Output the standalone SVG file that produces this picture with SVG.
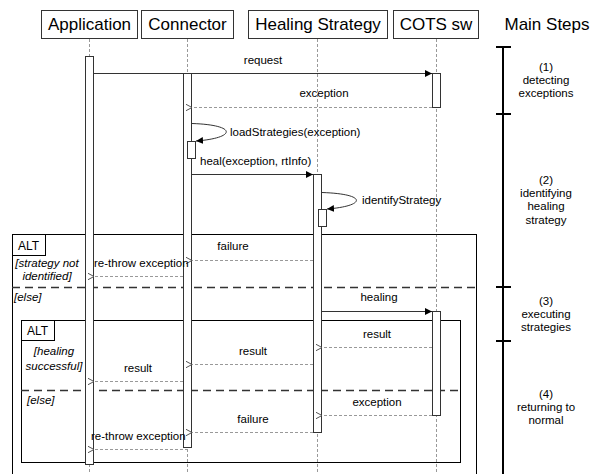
<svg xmlns="http://www.w3.org/2000/svg" width="595" height="474" viewBox="0 0 595 474">
  <style>
    text { font-family: "Liberation Sans", Arial, sans-serif; fill: #000; }
    .head { font-size: 17px; text-anchor: middle; }
    .msg { font-size: 11.5px; }
    .mid { text-anchor: middle; }
    .guard { font-size: 11.5px; font-style: italic; }
    .step { font-size: 11.5px; text-anchor: middle; }
    .box { fill: #fff; stroke: #333; stroke-width: 1; }
    .life { stroke: #999; stroke-width: 1; stroke-dasharray: 3 2; fill: none; }
    .bar { fill: #fff; stroke: #333; stroke-width: 1; }
    .call { stroke: #333; stroke-width: 1; fill: none; marker-end: url(#filled); }
    .ret { stroke: #999; stroke-width: 1; stroke-dasharray: 3 2; fill: none; marker-end: url(#open); }
    .frame { fill: none; stroke: #000; stroke-width: 1; }
    .sep { stroke: #333; stroke-width: 1.5; stroke-dasharray: 8 5; fill: none; }
    .axis { stroke: #000; stroke-width: 2; fill: none; }
  </style>
  <defs>
    <marker id="filled" markerWidth="8" markerHeight="8" refX="7" refY="4" orient="auto" markerUnits="userSpaceOnUse">
      <path d="M0,0.5 L7,4 L0,7.5 Z" fill="#000" stroke="none"/>
    </marker>
    <marker id="open" markerWidth="8" markerHeight="8" refX="1" refY="4" orient="auto" markerUnits="userSpaceOnUse">
      <path d="M7,0.8 L1,4 L7,7.2" fill="none" stroke="#555" stroke-width="1" stroke-dasharray="none"/>
    </marker>
  </defs>

  <rect width="595" height="474" fill="#fff"/>

  <!-- lifelines -->
  <g id="lifelines">
    <line class="life" x1="89.5" y1="39" x2="89.5" y2="474"/>
    <line class="life" x1="187.5" y1="39" x2="187.5" y2="474"/>
    <line class="life" x1="317.5" y1="39" x2="317.5" y2="474"/>
    <line class="life" x1="436.5" y1="39" x2="436.5" y2="474"/>
  </g>

  <!-- combined fragments -->
  <g id="alt-outer">
    <rect class="frame" x="12.5" y="234.5" width="464" height="250"/>
    <rect class="frame" x="12.5" y="234.5" width="33" height="21" fill="#fff"/>
    <text x="18" y="250" style="font-size:12px">ALT</text>
    <line class="sep" x1="12" y1="287.5" x2="476" y2="287.5"/>
    <text class="guard mid" x="47" y="267">[strategy not</text>
    <text class="guard mid" x="47" y="280">identified]</text>
    <text class="guard" x="14" y="301">[else]</text>
  </g>
  <g id="alt-inner">
    <rect class="frame" x="21.5" y="320.5" width="439" height="142"/>
    <rect class="frame" x="21.5" y="320.5" width="33" height="20" fill="#fff"/>
    <text x="27" y="335" style="font-size:12px">ALT</text>
    <line class="sep" x1="21" y1="390.5" x2="461" y2="390.5"/>
    <text class="guard mid" x="54" y="355">[healing</text>
    <text class="guard mid" x="54" y="370">successful]</text>
    <text class="guard" x="27" y="404">[else]</text>
  </g>

  <!-- participants -->
  <g id="application">
    <rect class="box" x="41.5" y="10.5" width="96" height="28"/>
    <text class="head" x="89.5" y="30">Application</text>
    <rect class="bar" x="85.5" y="56.5" width="8" height="408"/>
  </g>
  <g id="connector">
    <rect class="box" x="141.5" y="10.5" width="92" height="28"/>
    <text class="head" x="187.5" y="30">Connector</text>
    <rect class="bar" x="183.5" y="73.5" width="8" height="374"/>
    <rect class="bar" x="187.5" y="141.5" width="8" height="17"/>
  </g>
  <g id="healing-strategy">
    <rect class="box" x="248.5" y="10.5" width="139" height="28"/>
    <text class="head" x="318" y="30">Healing Strategy</text>
    <rect class="bar" x="313.5" y="174.5" width="8" height="258"/>
    <rect class="bar" x="318.5" y="209.5" width="8" height="17"/>
  </g>
  <g id="cots-sw">
    <rect class="box" x="393.5" y="10.5" width="85" height="28"/>
    <text class="head" x="436" y="30">COTS sw</text>
    <rect class="bar" x="432.5" y="73.5" width="8" height="34"/>
    <rect class="bar" x="432.5" y="311.5" width="8" height="104"/>
  </g>

  <!-- messages -->
  <g id="connectors">
    <line class="call" x1="94" y1="73.5" x2="432" y2="73.5"/>
    <line class="ret" x1="432" y1="107.5" x2="192" y2="107.5"/>
    <path class="call" d="M192,123.5 C238,125 236,138 196,141"/>
    <line class="call" x1="192" y1="174.5" x2="313" y2="174.5"/>
    <path class="call" d="M322,192.5 C368,194 366,206 327,209"/>
    <line class="ret" x1="313" y1="260.5" x2="192" y2="260.5"/>
    <line class="ret" x1="183" y1="276.5" x2="94" y2="276.5"/>
    <line class="call" x1="322" y1="311.5" x2="432" y2="311.5"/>
    <line class="ret" x1="432" y1="347.5" x2="322" y2="347.5"/>
    <line class="ret" x1="313" y1="364.5" x2="192" y2="364.5"/>
    <line class="ret" x1="183" y1="381.5" x2="94" y2="381.5"/>
    <line class="ret" x1="432" y1="415.5" x2="322" y2="415.5"/>
    <line class="ret" x1="313" y1="432.5" x2="192" y2="432.5"/>
    <line class="ret" x1="188" y1="449.5" x2="94" y2="449.5"/>
  </g>

  <!-- message labels -->
  <g id="labels">
    <text class="msg mid" x="263" y="64">request</text>
    <text class="msg mid" x="324" y="97">exception</text>
    <text class="msg" x="230" y="136">loadStrategies(exception)</text>
    <text class="msg" x="200" y="165">heal(exception, rtInfo)</text>
    <text class="msg" x="362" y="204">identifyStrategy</text>
    <text class="msg mid" x="233" y="250">failure</text>
    <text class="msg" x="94" y="267">re-throw exception</text>
    <text class="msg mid" x="379" y="301">healing</text>
    <text class="msg mid" x="377" y="338">result</text>
    <text class="msg mid" x="253" y="355">result</text>
    <text class="msg mid" x="138" y="372">result</text>
    <text class="msg mid" x="377" y="406">exception</text>
    <text class="msg mid" x="253" y="423">failure</text>
    <text class="msg" x="91" y="440">re-throw exception</text>
  </g>

  <!-- main steps axis -->
  <g id="main-steps">
    <text class="head" x="547" y="30">Main Steps</text>
    <line class="axis" x1="503" y1="47" x2="503" y2="474"/>
    <line class="axis" x1="496" y1="47" x2="511" y2="47"/>
    <line class="axis" x1="496" y1="114" x2="511" y2="114"/>
    <line class="axis" x1="496" y1="287" x2="511" y2="287"/>
    <line class="axis" x1="496" y1="341" x2="511" y2="341"/>
    <text class="step" x="546" y="71">(1)</text>
    <text class="step" x="546" y="84">detecting</text>
    <text class="step" x="546" y="97">exceptions</text>
    <text class="step" x="546" y="184">(2)</text>
    <text class="step" x="546" y="197">identifying</text>
    <text class="step" x="546" y="210">healing</text>
    <text class="step" x="546" y="224">strategy</text>
    <text class="step" x="546" y="305">(3)</text>
    <text class="step" x="546" y="318">executing</text>
    <text class="step" x="546" y="331">strategies</text>
    <text class="step" x="546" y="398">(4)</text>
    <text class="step" x="546" y="411">returning to</text>
    <text class="step" x="546" y="424">normal</text>
  </g>
</svg>
